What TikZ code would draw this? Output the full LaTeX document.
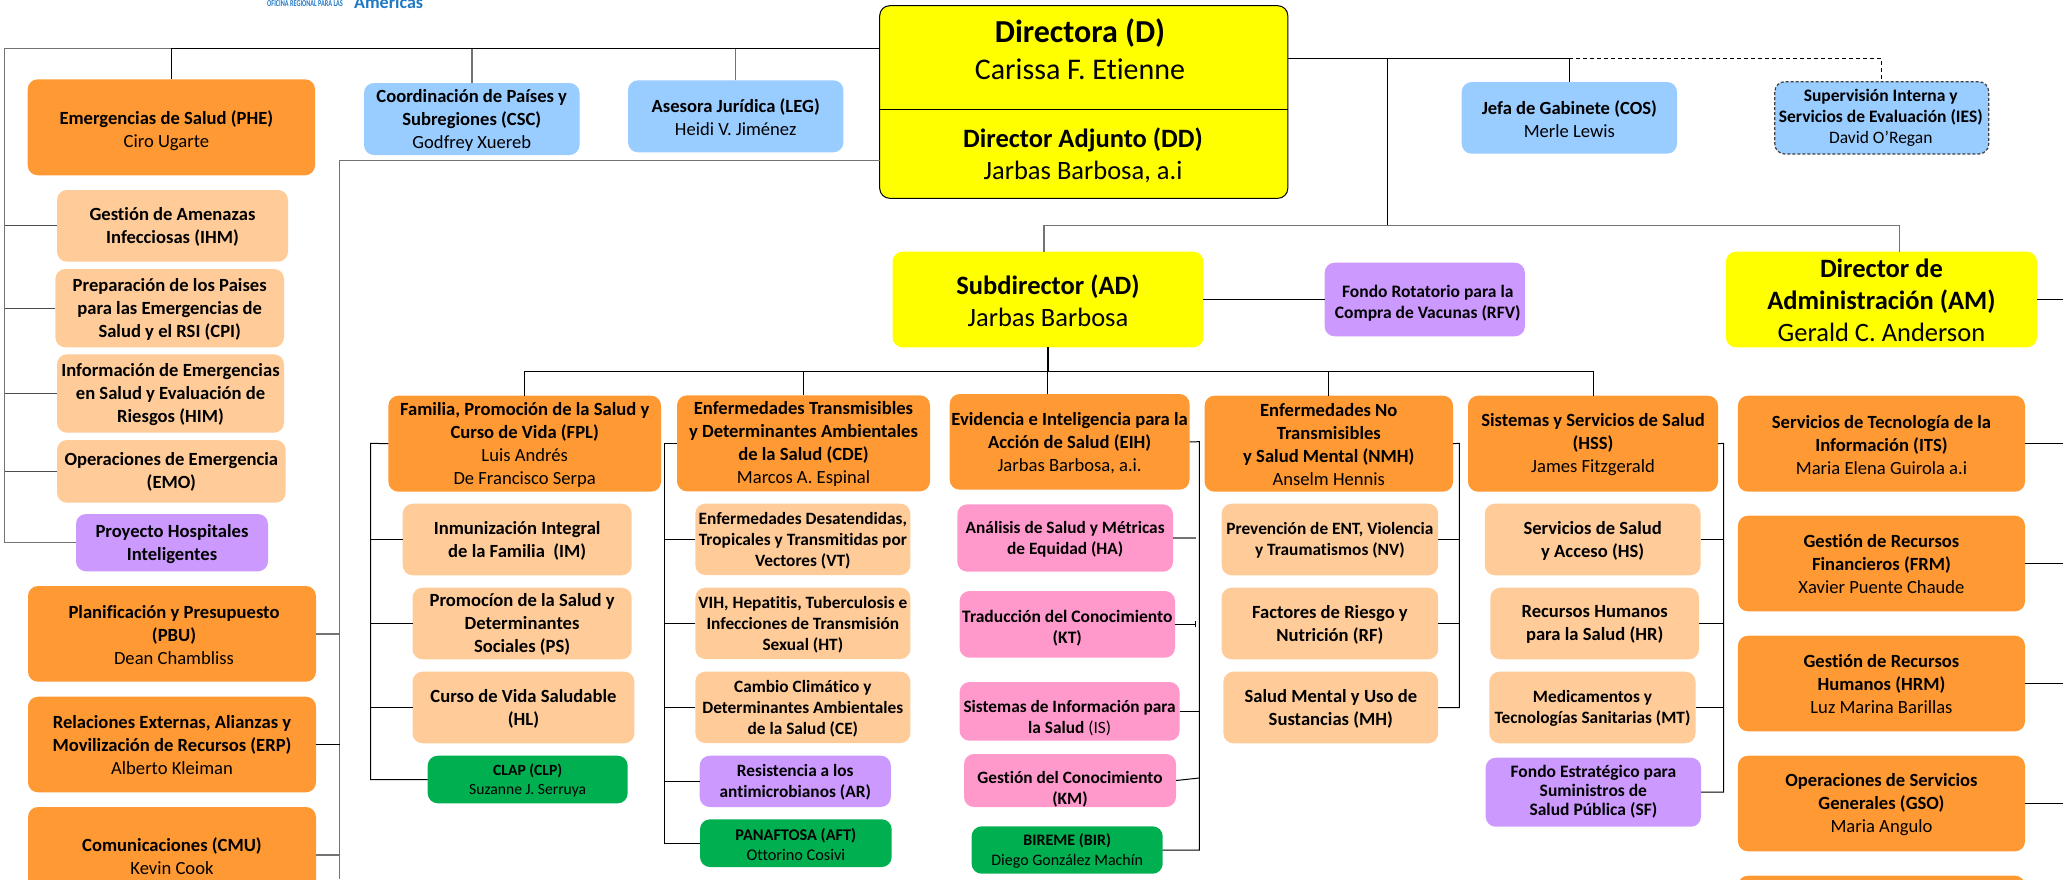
\documentclass[tikz,border=0pt]{standalone}
\usepackage{fontspec}
\usepackage{graphicx}
\setmainfont[Ligatures=NoCommon]{Carlito}
\definecolor{cOr}{HTML}{FF9933}
\definecolor{cLo}{HTML}{FFCC99}
\definecolor{cBl}{HTML}{99CCFF}
\definecolor{cPu}{HTML}{CC99FF}
\definecolor{cPk}{HTML}{FF99CC}
\definecolor{cGr}{HTML}{00B050}
\definecolor{cYe}{HTML}{FFFF00}
\definecolor{cLogo}{HTML}{1F78C4}
\tikzset{
 base/.style={rectangle,rounded corners=10pt,inner sep=0pt,outer sep=0pt,align=center,text=black},
 orbox/.style={base,fill=cOr},
 lobox/.style={base,fill=cLo},
 blbox/.style={base,fill=cBl},
 pubox/.style={base,fill=cPu},
 pkbox/.style={base,fill=cPk},
 grbox/.style={base,fill=cGr},
 yebox/.style={base,fill=cYe},
 fa/.style={font=\fontsize{18.6}{23}\selectfont},
 fb/.style={font=\fontsize{17.3}{21}\selectfont},
 fc/.style={font=\fontsize{16}{19.5}\selectfont},
 fd/.style={font=\fontsize{15.6}{19}\selectfont},
 fg/.style={font=\fontsize{17.5}{21}\selectfont},
 fe/.style={font=\fontsize{26.5}{32}\selectfont},
 ff/.style={font=\fontsize{30}{37}\selectfont},
 blk/.style={draw=black,line width=1pt},
 gry/.style={draw=black!55,line width=1.5pt},
 dsh/.style={draw=black,line width=1pt,dash pattern=on 4pt off 3pt},
}
% text offset for the next box, relative to the box centre
\gdef\tdx{0}\gdef\tdy{1}
\newcommand{\off}[2]{\gdef\tdx{#1}\gdef\tdy{#2}}
\newcommand{\bxn}[7][]{%
 \pgfmathsetmacro{\bw}{#5-#3}\pgfmathsetmacro{\bh}{#6-#4}%
 \pgfmathsetmacro{\bcx}{(#3+#5)/2}\pgfmathsetmacro{\bcy}{(#4+#6)/2}%
 \pgfmathsetmacro{\btx}{\bcx+\tdx}\pgfmathsetmacro{\bty}{\bcy+\tdy}%
 \node[#1,minimum width=\bw pt,minimum height=\bh pt] (#2) at (\bcx,\bcy) {};%
 \node[#1,fill=none,draw=none] (#2-t) at (\btx,\bty) {#7};%
 \gdef\tdx{0}\gdef\tdy{1}}
\newcommand{\B}[1]{\textbf{#1}}
\begin{document}
\begin{tikzpicture}[x=1pt,y=-1pt]
\useasboundingbox (0,0) rectangle (2063,879);
\fill[white] (0,0) rectangle (2063,879);
% logo
\node[anchor=base west,inner sep=0pt,text=cLogo,font=\fontsize{9}{9}\selectfont] (logoa) at (267,6.5) {\scalebox{0.69}[1]{\B{OFICINA REGIONAL PARA LAS}}};
\node[anchor=base west,inner sep=0pt,text=cLogo,font=\fontsize{18}{18}\selectfont] (logob) at (354,8) {\B{Américas}};
% buses
\coordinate (topbus) at (4.5,48.7);
\coordinate (ddbus) at (339.7,160.7);
\coordinate (bot) at (0,879);
\coordinate (drbus) at (1569.6,58.3);
\coordinate (mid) at (1387.5,225.3);
\coordinate (divbus) at (1047.6,371.3);
\coordinate (fplbus) at (370.5,443.3);
\coordinate (cdebus) at (664.5,443.3);
\coordinate (eihbus) at (1199.3,441.7);
\coordinate (hastop) at (1195.7,540);
\coordinate (nmhbus) at (1459.4,443.3);
\coordinate (hssbus) at (1723.6,443.3);
\coordinate (rbus) at (2063,0);
\coordinate (ddiv) at (0,109);
% top
\node[yebox,draw=black,line width=1pt,minimum width=408.1pt,minimum height=192.6pt] (D) at (1083.75,102) {};
\node[ff,inner sep=0pt,align=center] (Dt) at (1080,49) {\fontsize{32}{37}\selectfont\B{Directora (D)}\\\fontsize{30}{37}\selectfont Carissa F. Etienne};
\node[fe,inner sep=0pt,align=center] (DDt) at (1083,155) {\B{Director Adjunto (DD)}\\Jarbas Barbosa, a.i};
\off{-5}{3}\bxn[orbox,fa]{PHE}{27.7}{79.3}{315}{175.3}{\B{Emergencias de Salud (PHE)}\\Ciro Ugarte}
\bxn[blbox,fa]{CSC}{364}{83}{579.5}{155}{\B{Coordinación de Países y}\\\B{Subregiones (CSC)}\\Godfrey Xuereb}
\bxn[blbox,fa]{LEG}{628}{80.3}{843.4}{152.3}{\B{Asesora Jurídica (LEG)}\\Heidi V. Jiménez}
\bxn[blbox,fa]{COS}{1461.7}{82}{1677}{153.7}{\B{Jefa de Gabinete (COS)}\\Merle Lewis}
\off{-1}{0}\bxn[blbox,fg,draw=black!75,line width=1.2pt,dash pattern=on 3pt off 2pt]{IES}{1774.8}{81.7}{1988.7}{154}{\B{Supervisión Interna y}\\\B{Servicios de Evaluación (IES)}\\David O’Regan}
% left column
\bxn[lobox,fa]{IHM}{57}{190}{288}{261.7}{\B{Gestión de Amenazas}\\\B{Infecciosas (IHM)}}
\bxn[lobox,fa]{CPI}{55.4}{269}{284}{347.3}{\B{Preparación de los Paises}\\\B{para las Emergencias de}\\\B{Salud y el RSI (CPI)}}
\bxn[lobox,fa]{HIM}{57}{354.3}{284}{432.7}{\B{Información de Emergencias}\\\B{en Salud y Evaluación de}\\\B{Riesgos (HIM)}}
\bxn[lobox,fa]{EMO}{57}{440}{285.7}{502.7}{\B{Operaciones de Emergencia}\\\B{(EMO)}}
\bxn[pubox,fa]{Hosp}{76}{514}{268}{571.3}{\B{Proyecto Hospitales}\\\B{Inteligentes}}
\off{2}{1}\bxn[orbox,fa]{PBU}{28}{586}{316}{681.7}{\B{Planificación y Presupuesto}\\\B{(PBU)}\\Dean Chambliss}
\bxn[orbox,fa]{ERP}{28}{696.7}{316}{792.3}{\B{Relaciones Externas, Alianzas y}\\\B{Movilización de Recursos (ERP)}\\Alberto Kleiman}
\bxn[orbox,fa]{CMU}{28}{807}{316}{903}{\B{Comunicaciones (CMU)}\\Kevin Cook}
% AD row
\bxn[yebox,fe]{AD}{892.5}{251.7}{1203.4}{347.3}{\B{Subdirector (AD)}\\Jarbas Barbosa}
\off{3}{4}\bxn[pubox,fg]{RFV}{1324.6}{262.7}{1524.9}{336.3}{\B{Fondo Rotatorio para la}\\\B{Compra de Vacunas (RFV)}}
\bxn[yebox,fe]{AM}{1725.9}{251.7}{2037}{347.3}{\B{Director de}\\\B{Administración (AM)}\\Gerald C. Anderson}
% departments
\bxn[orbox,fa]{FPL}{388.4}{395.7}{661}{491.7}{\B{Familia, Promoción de la Salud y}\\\B{Curso de Vida (FPL)}\\Luis Andrés\\De Francisco Serpa}
\bxn[orbox,fa]{CDE}{677}{395.3}{930}{491.3}{\B{Enfermedades Transmisibles}\\\B{y Determinantes Ambientales}\\\B{de la Salud (CDE)}\\Marcos A. Espinal}
\bxn[orbox,fa]{EIH}{949.7}{394}{1189.5}{489.7}{\B{Evidencia e Inteligencia para la}\\\B{Acción de Salud (EIH)}\\Jarbas Barbosa, a.i.}
\bxn[orbox,fa]{NMH}{1204.6}{395.7}{1453}{491.7}{\B{Enfermedades No}\\\B{Transmisibles}\\\B{y Salud Mental (NMH)}\\Anselm Hennis}
\bxn[orbox,fa]{HSS}{1468}{395.7}{1718}{491.7}{\B{Sistemas y Servicios de Salud}\\\B{(HSS)}\\James Fitzgerald}
\bxn[orbox,fa]{ITS}{1737.9}{395.7}{2025}{491.7}{\B{Servicios de Tecnología de la}\\\B{Información (ITS)}\\Maria Elena Guirola a.i}
\bxn[orbox,fa]{FRM}{1737.9}{515.7}{2025}{611.3}{\B{Gestión de Recursos}\\\B{Financieros (FRM)}\\Xavier Puente Chaude}
\bxn[orbox,fa]{HRM}{1737.9}{635.7}{2025}{731.3}{\B{Gestión de Recursos}\\\B{Humanos (HRM)}\\Luz Marina Barillas}
\bxn[orbox,fa]{GSO}{1737.9}{755.7}{2025}{851.3}{\B{Operaciones de Servicios}\\\B{Generales (GSO)}\\Maria Angulo}
\bxn[orbox]{strip}{1737.9}{875.7}{2025}{971}{}
% FPL children
\bxn[lobox,fa]{IM}{402.7}{503.7}{631.7}{575.3}{\B{Inmunización Integral}\\\B{de la Familia~ (IM)}}
\bxn[lobox,fa]{PS}{412.5}{587.7}{631.7}{659.3}{\B{Promocíon de la Salud y}\\\B{Determinantes}\\\B{Sociales (PS)}}
\bxn[lobox,fa]{HL}{412.5}{671.7}{634.4}{743.3}{\B{Curso de Vida Saludable}\\\B{(HL)}}
\bxn[grbox,fd]{CLP}{427.7}{755.7}{627.7}{803.3}{\B{CLAP (CLP)}\\Suzanne J. Serruya}
% CDE children
\bxn[lobox,fb]{VT}{695.3}{503.7}{910.4}{575}{\B{Enfermedades Desatendidas,}\\\B{Tropicales y Transmitidas por}\\\B{Vectores (VT)}}
\bxn[lobox,fb]{HT}{695.3}{587.7}{910.4}{659}{\B{VIH, Hepatitis, Tuberculosis e}\\\B{Infecciones de Transmisión}\\\B{Sexual (HT)}}
\bxn[lobox,fb]{CE}{695.3}{671.7}{910.4}{743}{\B{Cambio Climático y}\\\B{Determinantes Ambientales}\\\B{de la Salud (CE)}}
\bxn[pubox,fb]{AR}{699.7}{755.7}{890.8}{807}{\B{Resistencia a los}\\\B{antimicrobianos (AR)}}
\bxn[grbox,font=\fontsize{16.3}{20}\selectfont]{AFT}{700}{819.3}{891.7}{867}{\B{PANAFTOSA (AFT)}\\Ottorino Cosivi}
% EIH children
\bxn[pkbox,fb]{HA}{957.3}{504.3}{1173}{571.7}{\B{Análisis de Salud y Métricas}\\\B{de Equidad (HA)}}
\off{0}{4}\bxn[pkbox,fg]{KT}{959.6}{591}{1175}{657.7}{\B{Traducción del Conocimiento}\\\B{(KT)}}
\off{0}{6.5}\bxn[pkbox,fb]{IS}{959.6}{682}{1179.6}{740.7}{\B{Sistemas de Información para}\\\B{la Salud} (IS)}
\off{0}{8.5}\bxn[pkbox,fb]{KM}{964}{754}{1176}{807}{\B{Gestión del Conocimiento}\\\B{(KM)}}
\bxn[grbox,fc]{BIR}{971.6}{826.3}{1162.7}{873.7}{\B{BIREME (BIR)}\\Diego González Machín}
% NMH children
\bxn[lobox,fb]{NV}{1221.6}{503.7}{1438.2}{575.3}{\B{Prevención de ENT, Violencia}\\\B{y Traumatismos (NV)}}
\bxn[lobox,fa]{RF}{1221.6}{587.7}{1438.2}{659.3}{\B{Factores de Riesgo y}\\\B{Nutrición (RF)}}
\bxn[lobox,fa]{MH}{1223.4}{671.7}{1438.2}{743.3}{\B{Salud Mental y Uso de}\\\B{Sustancias (MH)}}
% HSS children
\bxn[lobox,fa]{HS}{1484.8}{503.7}{1700.5}{575.3}{\B{Servicios de Salud}\\\B{y Acceso (HS)}}
\bxn[lobox,fa]{HR}{1490.3}{587.7}{1699}{659.3}{\B{Recursos Humanos}\\\B{para la Salud (HR)}}
\bxn[lobox,fb]{MT}{1489.4}{671.7}{1695.5}{743.3}{\B{Medicamentos y}\\\B{Tecnologías Sanitarias (MT)}}
\off{0}{-1}\bxn[pubox,font=\fontsize{17.5}{19}\selectfont]{SF}{1485.7}{757.7}{1701}{826.7}{\B{Fondo Estratégico para}\\\B{Suministros de}\\\B{Salud Pública (SF)}}
% connectors: top-left
\draw[gry] (Hosp.west) -- (Hosp.west -| topbus) -- (topbus) -- (PHE.north |- topbus);
\draw[blk,line width=1.5pt] (PHE.north |- topbus) -- (D.west |- topbus);
\draw[blk] (PHE.north) -- (PHE.north |- topbus);
\draw[gry] (CSC.north) -- (CSC.north |- topbus);
\draw[gry] (LEG.north) -- (LEG.north |- topbus);
\foreach \n in {IHM,CPI,HIM,EMO} \draw[draw=black!70,line width=1.2pt] (\n.west) -- (\n.west -| topbus);
% DD to the staff on the left
\draw[gry] (D.west |- ddbus) -- (ddbus) -- (ddbus |- bot);
\draw[gry] (PBU.east) -- (PBU.east -| ddbus);
\draw[blk] (ERP.east) -- (ERP.east -| ddbus);
\draw[gry,line width=1.2pt] (CMU.east) -- (CMU.east -| ddbus);
% D divider
\draw[blk] (D.west |- ddiv) -- (D.east |- ddiv);
% D right
\draw[blk] (D.east |- drbus) -- (COS.north |- drbus) -- (COS.north);
\draw[dsh] (COS.north |- drbus) -- (IES.north |- drbus) -- (IES.north);
\draw[blk] (mid |- drbus) -- (mid);
\draw[gry] ([xshift=-4pt]AD.north) -- ([xshift=-4pt]AD.north |- mid) -- ([xshift=18pt]AM.north |- mid) -- ([xshift=18pt]AM.north);
\draw[blk] (AD.east) -- (RFV.west);
\draw[blk] (AM.east) -- (AM.east -| rbus);
\foreach \n in {ITS,FRM,HRM,GSO} \draw[blk] (\n.east) -- (\n.east -| rbus);
% AD to departments
\draw[blk,line width=1.5pt] (AD.south) -- (AD.south |- divbus);
\draw[blk] (AD.south |- divbus) -- (AD.south |- EIH.north);
\draw[blk] (FPL.north) -- (FPL.north |- divbus) -- (HSS.north |- divbus) -- (HSS.north);
\draw[blk] (CDE.north) -- (CDE.north |- divbus);
\draw[blk] (NMH.north) -- (NMH.north |- divbus);
% department children
\draw[blk] (FPL.west) -- (fplbus) -- (fplbus |- CLP.west) -- (CLP.west);
\foreach \n in {IM,PS,HL} \draw[blk] (\n.west) -- (\n.west -| fplbus);
\draw[blk] (CDE.west) -- (cdebus) -- (cdebus |- AFT.west) -- (AFT.west);
\foreach \n in {VT,HT,CE,AR} \draw[blk] (\n.west) -- (\n.west -| cdebus);
\draw[blk] (EIH.east) -- (eihbus) -- (eihbus |- BIR.east) -- (BIR.east);
\draw[gry] (HA.east) -- (HA.east -| hastop);
\draw[blk] (KT.east) -- (KT.east -| hastop);
\draw[blk,line width=.8pt] ([yshift=3pt]KT.east -| hastop) -- ([yshift=-3pt]KT.east -| hastop);
\draw[blk] (IS.east) -- (IS.east -| eihbus);
\draw[blk] (KM.east) -- ([yshift=2.5pt]KM.east -| eihbus);
\draw[blk] (NMH.east) -- (nmhbus) -- (nmhbus |- MH.east) -- (MH.east);
\foreach \n in {NV,RF} \draw[blk] (\n.east) -- (\n.east -| nmhbus);
\draw[blk] (HSS.east) -- (hssbus) -- (hssbus |- SF.east) -- (SF.east);
\foreach \n in {HS,HR,MT} \draw[blk] (\n.east) -- (\n.east -| hssbus);
\end{tikzpicture}
\end{document}
